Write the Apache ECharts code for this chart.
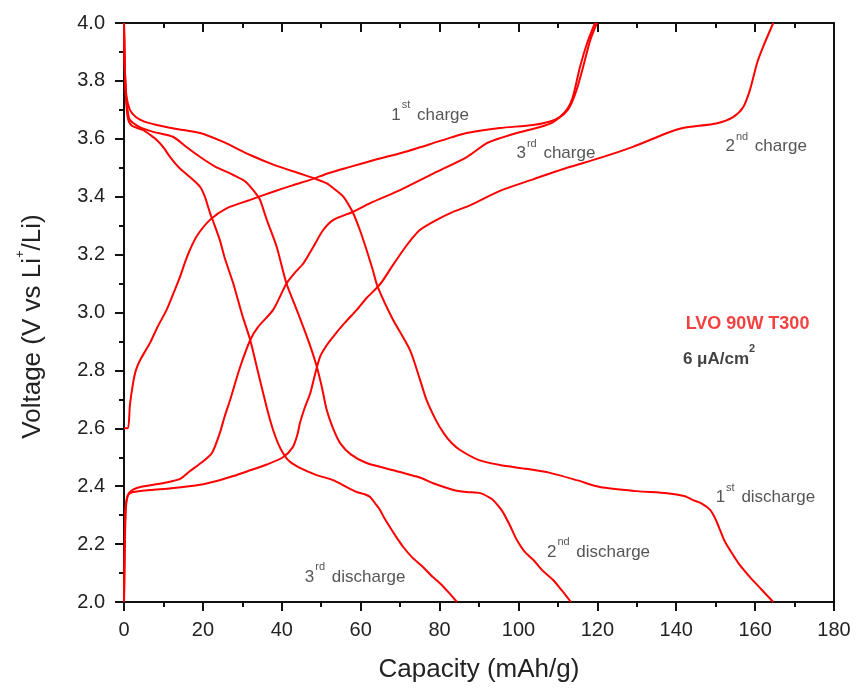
<!DOCTYPE html>
<html>
<head>
<meta charset="utf-8">
<script src="https://cdn.jsdelivr.net/npm/echarts@6/dist/echarts.min.js"></script>
<style>
html,body{margin:0;padding:0;background:#fff;}
#chart{width:856px;height:688px;}
</style>
</head>
<body>
<div id="chart"></div>
<script>
// Capacity (mAh/g), Voltage (V) pairs
var discharge1 = [[0,4.0],[0.2,3.85],[0.6,3.75],[1.5,3.70],[3,3.675],[5,3.66],[8.3,3.648],[13,3.635],[19.3,3.62],[25,3.59],[32,3.544],[38,3.51],[44.6,3.48],[48.5,3.462],[51.4,3.446],[53.5,3.425],[55.6,3.40],[58.1,3.343],[59.8,3.285],[61.5,3.216],[63,3.15],[64.3,3.089],[68,2.98],[72.5,2.87],[75,2.77],[76.7,2.698],[79,2.63],[81,2.584],[83,2.55],[85.2,2.525],[90,2.49],[95.3,2.473],[102,2.46],[108,2.446],[115,2.42],[120.7,2.397],[130,2.383],[137.7,2.376],[142,2.366],[144.3,2.352],[146.5,2.34],[148.6,2.318],[150,2.285],[151.1,2.249],[152.3,2.21],[153.6,2.18],[156,2.13],[158.7,2.086],[161.5,2.045],[164.6,2.0]];
var discharge2 = [[0,4.0],[0.2,3.85],[0.5,3.75],[1,3.69],[1.5,3.665],[4,3.64],[7.4,3.624],[12.4,3.607],[16,3.57],[19.3,3.537],[23,3.505],[27.7,3.475],[30.5,3.455],[32,3.435],[33.5,3.41],[34.5,3.389],[36.2,3.32],[38.7,3.227],[41.2,3.10],[43.8,3.009],[46.8,2.90],[48.9,2.812],[50.2,2.74],[51.4,2.663],[53,2.6],[54.8,2.549],[57.5,2.51],[61.5,2.48],[70,2.449],[75,2.43],[78.4,2.41],[83.5,2.387],[86.9,2.38],[90.3,2.376],[92.8,2.36],[93.6,2.352],[95,2.33],[96.2,2.307],[98,2.26],[99.6,2.214],[101.5,2.175],[103.8,2.145],[106,2.11],[108.8,2.076],[111,2.04],[113.3,2.0]];
var discharge3 = [[0,4.0],[0.2,3.85],[0.5,3.74],[1,3.67],[2,3.645],[4.9,3.63],[6.5,3.615],[8.3,3.596],[10,3.57],[11.7,3.537],[14,3.5],[16.7,3.468],[19.3,3.434],[20.5,3.40],[21.8,3.344],[23,3.30],[24.3,3.25],[25.5,3.19],[27.7,3.10],[30,2.99],[32,2.905],[33.7,2.81],[35.3,2.72],[36.6,2.65],[37.8,2.594],[39,2.55],[40.3,2.515],[42,2.485],[44.6,2.463],[48.5,2.44],[53,2.421],[56,2.40],[59,2.38],[61,2.372],[62.4,2.363],[63.7,2.34],[64.9,2.318],[66,2.29],[67.4,2.259],[69,2.225],[70.8,2.19],[73,2.155],[75.8,2.121],[78,2.09],[80.1,2.065],[82.3,2.033],[84.4,2.0]];
var charge1 = [[0,2.6],[1,2.6],[1.5,2.68],[2.3,2.756],[3,2.8],[4.1,2.836],[6.6,2.895],[8.5,2.95],[10.8,3.009],[12.5,3.065],[14.2,3.123],[15.5,3.175],[16.7,3.216],[18.5,3.265],[21.8,3.32],[26,3.36],[32,3.389],[38,3.418],[42.9,3.44],[47.2,3.458],[52,3.482],[57.3,3.503],[63,3.525],[70,3.55],[78.4,3.585],[83,3.605],[86.9,3.62],[95.3,3.637],[103.7,3.648],[108,3.66],[110.5,3.675],[112.5,3.70],[113.8,3.734],[115,3.78],[116.4,3.848],[118.2,3.941],[119.9,4.0]];
var charge2 = [[0,2.0],[0.15,2.15],[0.3,2.307],[0.6,2.35],[1,2.37],[2.3,2.38],[6.6,2.387],[12,2.393],[19.3,2.405],[24,2.42],[27.7,2.435],[32,2.455],[36.2,2.475],[40.3,2.50],[42.8,2.535],[44,2.58],[44.6,2.618],[45.8,2.67],[47.2,2.72],[48.5,2.79],[49.7,2.847],[51.3,2.885],[53,2.916],[56,2.965],[59,3.009],[61.5,3.05],[64.3,3.088],[65.7,3.112],[68,3.16],[70.8,3.216],[73,3.255],[75,3.285],[79.3,3.32],[83,3.345],[87.7,3.37],[95.3,3.42],[103.7,3.46],[112.3,3.50],[120.7,3.534],[129,3.572],[137.7,3.62],[141.7,3.637],[150.4,3.654],[154.4,3.675],[157,3.71],[158.7,3.769],[160.5,3.862],[162,3.917],[164.6,4.0]];
var charge3 = [[0,2.0],[0.15,2.15],[0.4,2.3],[0.7,2.352],[1.5,2.38],[4.1,2.397],[10.8,2.413],[14.2,2.425],[16.5,2.45],[19.5,2.48],[22.3,2.515],[24.3,2.584],[25.5,2.64],[26.9,2.698],[29.4,2.81],[32,2.905],[34,2.95],[37.8,3.009],[41.2,3.10],[43.5,3.14],[45.5,3.17],[48,3.227],[50.5,3.285],[53.1,3.32],[58.1,3.348],[62.4,3.378],[70,3.423],[78.4,3.48],[86.9,3.537],[92,3.585],[96,3.605],[99.6,3.62],[105.5,3.641],[108.5,3.655],[110.5,3.675],[112.5,3.705],[113.8,3.745],[115.6,3.848],[117.4,3.93],[119.4,4.0]];

var xTicks = {min: 0, max: 180, interval: 20};
var yTicks = {min: 2.0, max: 4.0, interval: 0.2};

// annotation labels: [x, y, rich text, align]
var annotations = [
  [77.6, 3.693, '{n|1}{s|st}{n| charge}', 'center'],
  [109.5, 3.561, '{n|3}{s|rd}{n| charge}', 'center'],
  [162.8, 3.585, '{n|2}{s|nd}{n| charge}', 'center'],
  [162.6, 2.372, '{n|1}{s|st}{n| discharge}', 'center'],
  [120.3, 2.185, '{n|2}{s|nd}{n| discharge}', 'center'],
  [58.6, 2.099, '{n|3}{s|rd}{n| discharge}', 'center'],
  [142.4, 2.960, '{r|LVO 90W T300}', 'left'],
  [141.7, 2.850, '{b|6 \u03bcA/cm}{bs|2}', 'left']
];

var FONT = '"Liberation Sans", Arial, sans-serif';
var rich = {
  n: {fontSize: 17, color: '#2a2a2a', fontFamily: FONT, lineHeight: 24, verticalAlign: 'bottom'},
  s: {fontSize: 11, color: '#2a2a2a', fontFamily: FONT, lineHeight: 24, verticalAlign: 'top', padding: [0, 2, 0, 1]},
  r: {fontSize: 18, color: '#f01010', fontWeight: 'bold', fontFamily: FONT, lineHeight: 24},
  b: {fontSize: 17, color: '#111', fontWeight: 'bold', fontFamily: FONT, lineHeight: 24, verticalAlign: 'bottom'},
  bs: {fontSize: 11, color: '#111', fontWeight: 'bold', fontFamily: FONT, lineHeight: 24, verticalAlign: 'top'}
};

function curve(name, data) {
  return {
    name: name, type: 'line', data: data, xAxisIndex: 0, yAxisIndex: 0,
    showSymbol: false, smooth: 0.25, animation: false,
    lineStyle: {color: '#ff0000', width: 2}, silent: true
  };
}

var axisLine = {show: true, onZero: false, lineStyle: {color: '#111', width: 2}};
var chart = echarts.init(document.getElementById('chart'), null, {renderer: 'canvas'});
chart.setOption({
  animation: false,
  backgroundColor: '#fff',
  grid: {left: 124, right: 22, top: 23, bottom: 86},
  xAxis: [
    {type: 'value', position: 'bottom', min: xTicks.min, max: xTicks.max, interval: xTicks.interval,
     name: 'Capacity (mAh/g)', nameLocation: 'middle', nameGap: 55,
     nameTextStyle: {fontSize: 26, color: '#222', fontFamily: FONT},
     axisLine: axisLine,
     axisTick: {show: true, inside: false, length: 9, lineStyle: {color: '#111', width: 2}},
     minorTick: {show: true, splitNumber: 2, length: 5, lineStyle: {color: '#111', width: 2}},
     axisLabel: {fontSize: 20, color: '#222', fontFamily: FONT, margin: 18},
     splitLine: {show: false}},
    {type: 'value', position: 'top', min: xTicks.min, max: xTicks.max, interval: xTicks.interval,
     axisLine: axisLine,
     axisTick: {show: true, inside: true, length: 9, lineStyle: {color: '#111', width: 2}},
     minorTick: {show: true, splitNumber: 2, length: 5, lineStyle: {color: '#111', width: 2}},
     axisLabel: {show: false}, splitLine: {show: false}}
  ],
  yAxis: [
    {type: 'value', position: 'left', min: yTicks.min, max: yTicks.max, interval: yTicks.interval,
     name: '{t|Voltage (V vs Li}{p|+}{t|/Li)}', nameLocation: 'middle', nameGap: 78, nameRotate: 90,
     nameTextStyle: {padding: [0, 28, 0, 0], rich: {
       t: {fontSize: 26, color: '#222', fontFamily: FONT, lineHeight: 32, verticalAlign: 'bottom'},
       p: {fontSize: 13, color: '#222', fontFamily: FONT, lineHeight: 32, verticalAlign: 'top'}
     }},
     axisLine: axisLine,
     axisTick: {show: true, inside: false, length: 9, lineStyle: {color: '#111', width: 2}},
     minorTick: {show: true, splitNumber: 2, length: 5, lineStyle: {color: '#111', width: 2}},
     axisLabel: {fontSize: 20, color: '#222', fontFamily: FONT, margin: 19,
       formatter: function (v) { return v.toFixed(1); }},
     splitLine: {show: false}},
    {type: 'value', position: 'right', min: yTicks.min, max: yTicks.max, interval: yTicks.interval,
     axisLine: axisLine, axisTick: {show: false}, axisLabel: {show: false}, splitLine: {show: false}}
  ],
  series: [
    curve('1st discharge', discharge1),
    curve('2nd discharge', discharge2),
    curve('3rd discharge', discharge3),
    curve('1st charge', charge1),
    curve('2nd charge', charge2),
    curve('3rd charge', charge3),
    {
      type: 'scatter', symbolSize: 0, silent: true, animation: false,
      data: annotations.map(function (a) {
        return {value: [a[0], a[1]], label: {show: true, formatter: a[2], align: a[3], verticalAlign: 'middle', position: [0, 0], rich: rich}};
      })
    }
  ]
});
</script>
</body>
</html>
